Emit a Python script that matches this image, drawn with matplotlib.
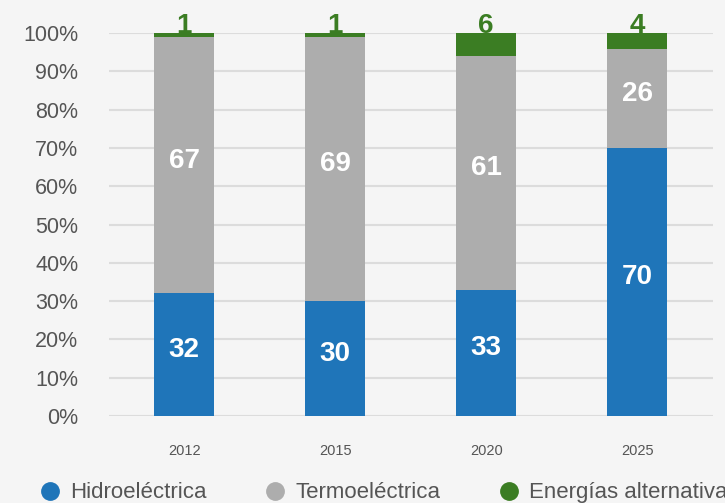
import matplotlib as mpl

mpl.use('Agg')
import matplotlib.pyplot as plt
from matplotlib.lines import Line2D
import numpy as np

years = ['2012', '2015', '2020', '2025']
hidro = [32, 30, 33, 70]
termo = [67, 69, 61, 26]
alter = [1, 1, 6, 4]
series_names = ['Hidroeléctrica', 'Termoeléctrica', 'Energías alternativas']
yticks = [0, 10, 20, 30, 40, 50, 60, 70, 80, 90, 100]

c_hidro = '#1f75b9'
c_termo = '#adadad'
c_alter = '#3b7d23'
bg = '#f5f5f5'

plt.rcParams['font.family'] = ['Liberation Sans', 'DejaVu Sans']

fig = plt.figure(figsize=(7.25, 5.03), dpi=100, facecolor=bg)
ax = fig.add_axes([0.150, 0.173, 0.833, 0.761], facecolor=bg)

x = np.arange(len(years))
h = np.array(hidro, dtype=float)
t = np.array(termo, dtype=float)
a = np.array(alter, dtype=float)
w = 0.40

ax.bar(x, h, w, color=c_hidro, zorder=3)
ax.bar(x, t, w, bottom=h, color=c_termo, zorder=3)
ax.bar(x, a, w, bottom=h + t, color=c_alter, zorder=3)

for i in range(len(years)):
    ax.text(x[i], h[i] / 2 + 1.2, str(hidro[i]), color='white', fontsize=20,
            fontweight='bold', ha='center', va='center', zorder=4)
    ax.text(x[i], h[i] + t[i] / 2 + 1.2, str(termo[i]), color='white', fontsize=20,
            fontweight='bold', ha='center', va='center', zorder=4)
    ax.text(x[i], h[i] + t[i] + a[i], str(alter[i]), color=c_alter, fontsize=20,
            fontweight='bold', ha='center', va='baseline', zorder=4)

ax.set_xlim(-0.5, 3.5)
ax.set_ylim(0, 100)
ax.set_yticks(yticks)
ax.set_yticklabels([f'{v}%' for v in yticks], fontsize=15.5, color='#555555')
ax.set_xticks(x)
ax.set_xticklabels(years, fontsize=10.5, color='#555555')
ax.tick_params(axis='both', length=0)
ax.tick_params(axis='y', pad=22)
ax.tick_params(axis='x', pad=20)
ax.grid(axis='y', color='#dcdcdc', linewidth=1.5, zorder=0)
for s in ax.spines.values():
    s.set_visible(False)

handles = [Line2D([], [], marker='o', linestyle='none', markersize=12.5, color=c)
           for c in (c_hidro, c_termo, c_alter)]
fig.legend(handles, series_names, loc='center left', bbox_to_anchor=(0.0537, 0.02),
           ncol=3, frameon=False, fontsize=16, handlelength=1, handletextpad=0.4,
           columnspacing=2.6, borderpad=0, borderaxespad=0, labelcolor='#555555')

fig.savefig('out.png', dpi=100, facecolor=bg)
